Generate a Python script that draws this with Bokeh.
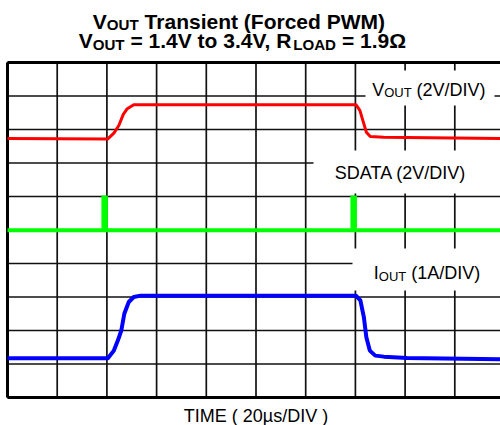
from bokeh.plotting import figure
from bokeh.models import Label
from bokeh.embed import file_html
from bokeh.resources import INLINE

# ---- data (screen divisions: x = time div, y = vertical div from bottom) ----
vout_t = [0.0, 2.02, 2.14, 2.24, 2.33, 2.41, 2.54, 7.01, 7.09, 7.16, 7.22, 7.30, 7.57, 10.0]
vout_d = [7.73, 7.72, 7.89, 8.12, 8.45, 8.62, 8.74, 8.74, 8.57, 8.22, 7.92, 7.79, 7.77, 7.73]

sdata_t = [0.0, 1.93, 1.93, 1.98, 1.98, 6.94, 6.94, 6.99, 6.99, 10.0]
sdata_d = [4.99, 4.99, 5.97, 5.97, 4.99, 4.99, 5.97, 5.97, 4.99, 4.99]

iout_t = [0.0, 2.02, 2.14, 2.22, 2.29, 2.35, 2.44, 2.54, 2.68, 7.01, 7.10, 7.17, 7.22, 7.29, 7.40, 7.57, 8.04, 10.0]
iout_d = [1.17, 1.17, 1.40, 1.70, 2.00, 2.50, 2.85, 3.00, 3.04, 3.04, 2.90, 2.40, 1.80, 1.40, 1.25, 1.22, 1.18, 1.14]

grid_divs = list(range(0, 11))

title_1 = [("V", False), ("OUT", True), (" Transient (Forced PWM)", False)]
title_2 = [("V", False), ("OUT", True), (" = 1.4V to 3.4V, R", False), ("LOAD", True), (" = 1.9\u03a9", False)]
lab_vout = [("V", False), ("OUT", True), (" (2V/DIV)", False)]
lab_sdata = [("SDATA (2V/DIV)", False)]
lab_iout = [("I", False), ("OUT", True), (" (1A/DIV)", False)]
lab_time = [("TIME ( 20\u00b5s/DIV )", False)]

# ---- geometry (pixels) ----
W, H = 500, 425
LEFT_PX, TOP_PX, BOT_PX = 7, 62, 397
PXX = 49.7
PXY = (BOT_PX - TOP_PX) / 10.0
FONT = "Liberation Sans"
SHIFT = 6  # baseline correction

REG = {' ': 278, '(': 333, ')': 333, '/': 278, '=': 584, '.': 278, ',': 278,
       'A': 667, 'D': 722, 'E': 667, 'I': 278, 'L': 556, 'M': 833, 'O': 778,
       'R': 722, 'S': 667, 'T': 611, 'U': 722, 'V': 667, 'W': 944, 'F': 611, 'P': 667,
       'a': 556, 'c': 500, 'd': 556, 'e': 556, 'i': 222, 'n': 556, 'o': 556,
       'r': 333, 's': 500, 't': 278, '\u00b5': 576, '\u03a9': 768}
BOLD = {' ': 278, '(': 333, ')': 333, '/': 278, '=': 584, '.': 278, ',': 278,
        'A': 722, 'D': 722, 'E': 667, 'I': 278, 'L': 611, 'M': 833, 'O': 778,
        'R': 722, 'S': 667, 'T': 611, 'U': 722, 'V': 667, 'W': 944, 'F': 611, 'P': 667,
        'a': 556, 'c': 556, 'd': 611, 'e': 556, 'i': 278, 'n': 611, 'o': 611,
        'r': 389, 's': 556, 't': 333, '\u00b5': 611, '\u03a9': 768}


def text_w(s, size, bold):
    tab = BOLD if bold else REG
    return sum(tab.get(c, 556) for c in s) * size / 1000.0


def px2x(px):
    return (px - LEFT_PX) / PXX


def py2y(py):
    return (BOT_PX - py) / PXY


p = figure(width=W, height=H, output_backend="svg", toolbar_location=None,
           x_range=(px2x(0), px2x(W)), y_range=(py2y(H), py2y(0)),
           min_border=0)
p.xaxis.visible = False
p.yaxis.visible = False
p.xgrid.visible = False
p.ygrid.visible = False
p.outline_line_color = None
p.background_fill_color = "white"
p.border_fill_color = "white"

n = len(grid_divs)
lo, hi = grid_divs[0], grid_divs[-1]
# grid
p.segment(x0=grid_divs, x1=grid_divs, y0=[lo] * n, y1=[hi] * n, line_color="#111111", line_width=1.7)
p.segment(x0=[lo] * n, x1=[hi] * n, y0=grid_divs, y1=grid_divs, line_color="#111111", line_width=1.7)
# frame edges (left, bottom, top; right edge is off-page)
p.segment(x0=[lo, lo, lo], x1=[lo, hi, hi], y0=[lo, lo, hi], y1=[hi, lo, hi], line_color="black", line_width=3)

# white label boxes
p.quad(left=[px2x(365), px2x(313), px2x(352)], right=[px2x(494), px2x(520), px2x(520)],
       bottom=[py2y(105), py2y(193), py2y(290)], top=[py2y(70), py2y(150), py2y(248)],
       fill_color="white", line_color=None)

p.line(vout_t, vout_d, line_color="#ff0000", line_width=3, line_join="round")
p.line(sdata_t, sdata_d, line_color="#00ff00", line_width=4, line_join="miter")
p.line(iout_t, iout_d, line_color="#0000ff", line_width=4, line_join="round")


def rich(parts, px, py, size, bold=False, align="left"):
    sub = size * 0.72
    widths = [text_w(t, sub if s else size, bold) for t, s in parts]
    total = sum(widths)
    x = px - total / 2 if align == "center" else px
    for (t, s), w in zip(parts, widths):
        fs = sub if s else size
        stripped = t.lstrip(" ")
        lead = text_w(t[:len(t) - len(stripped)], fs, bold)
        yy = py - SHIFT + (size * 0.18 if s else 0)
        p.add_layout(Label(x=px2x(x + lead), y=py2y(yy), text=stripped,
                           text_font=FONT, text_font_size=f"{fs:.1f}px",
                           text_font_style="bold" if bold else "normal",
                           text_color="black", text_align="left", text_baseline="alphabetic"))
        x += w


rich(title_1, 239, 26.5, 21, bold=True, align="center")
rich(title_2, 241.5, 46, 21, bold=True, align="center")
rich(lab_vout, 371.7, 95, 18)
rich(lab_sdata, 334.3, 178.3, 18)
rich(lab_iout, 373.3, 278.3, 18)
rich(lab_time, 255.5, 421, 18, align="center")

open("out.html", "w").write(file_html(p, INLINE))
